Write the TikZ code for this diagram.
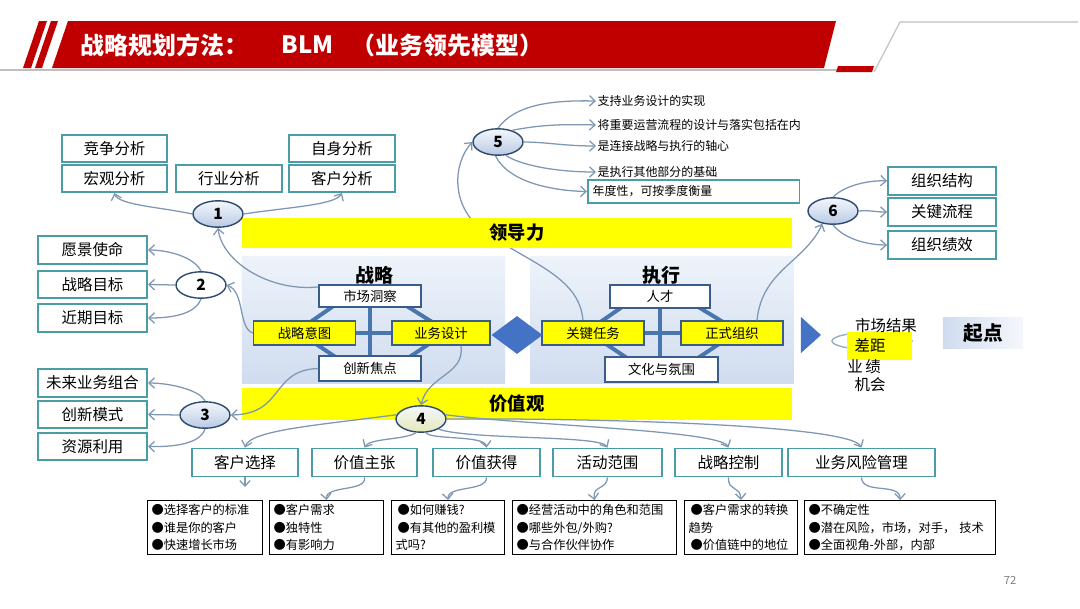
\documentclass[tikz,border=0pt]{standalone}
\usepackage{fontspec}
\setmainfont{Noto Sans CJK SC}
\usepackage{tikz}
\usetikzlibrary{arrows.meta,positioning,shapes.geometric,calc}
\definecolor{brandred}{HTML}{C00000}
\definecolor{rulegray}{HTML}{BFBFBF}
\definecolor{tealbd}{HTML}{4A9CA6}
\definecolor{linkc}{HTML}{7E97B3}
\definecolor{navybd}{HTML}{385D8A}
\definecolor{barblue}{HTML}{4A76B0}
\definecolor{diamondc}{HTML}{4472C4}
\definecolor{panelhi}{HTML}{EEF3FA}
\definecolor{panello}{HTML}{D0DCEF}
\definecolor{ovalhi}{HTML}{F4F7FC}
\definecolor{ovallo}{HTML}{B9CAE4}
\definecolor{ovalgreen}{HTML}{E4E9B8}
\definecolor{hiyellow}{HTML}{FFFF00}
\definecolor{pagegray}{HTML}{7F7F7F}
\tikzset{
  titletext/.style={text=white,font=\bfseries\fontsize{17}{19}\selectfont,inner sep=1pt},
  tagbox/.style={draw=tealbd,fill=white,line width=1.3pt,inner sep=0pt,
                 minimum width=2.63cm,minimum height=0.68cm,
                 font=\fontsize{11}{13}\selectfont},
  panel/.style={top color=panelhi,bottom color=panello,inner sep=0pt,
                minimum width=6.58cm,minimum height=3.15cm},
  band/.style={fill=hiyellow,inner sep=0pt,minimum width=13.75cm,
               minimum height=0.75cm,font=\bfseries\fontsize{13}{15}\selectfont},
  paneltitle/.style={font=\bfseries\fontsize{13.5}{15}\selectfont,inner sep=1pt},
  inbox/.style={draw=navybd,fill=white,line width=1pt,inner sep=0pt,
                minimum width=2.55cm,minimum height=0.6cm,
                font=\fontsize{9.5}{11}\selectfont},
  inboxy/.style={inbox,fill=hiyellow},
  bar/.style={draw=barblue,line width=2.8pt},
  oval/.style={ellipse,draw=navybd!80!black,line width=1pt,inner sep=0pt,
               minimum width=1.25cm,minimum height=0.66cm,
               top color=ovalhi,bottom color=ovallo,
               font=\bfseries\fontsize{11}{13}\selectfont},
  link/.style={-{Straight Barb[length=1.4mm,width=2.6mm]},draw=linkc,line width=0.9pt},
  note/.style={anchor=west,inner sep=1pt,font=\fontsize{8.5}{10}\selectfont},
  detail/.style={draw=black,line width=0.8pt,anchor=north west,align=left,
                 inner xsep=0.1cm,inner ysep=0.1cm,minimum height=1.33cm,
                 font=\fontsize{8.7}{12.2}\selectfont},
  plain/.style={inner sep=1pt,font=\fontsize{11}{13}\selectfont},
}
\begin{document}
\begin{tikzpicture}[x=0.025cm,y=-0.025cm]
  \fill[white] (0,0) rectangle (1080,608);
  \useasboundingbox (0,0) rectangle (1080,608);
  \draw[rulegray,line width=1pt] (0,70) -- (840,70);
  \fill[brandred] (39,21) -- (47,21) -- (31,68) -- (23,68) -- cycle;
  \fill[brandred] (51,21) -- (58,21) -- (42,68) -- (35,68) -- cycle;
  \fill[brandred] (68,21) -- (836,21) -- (824,68) -- (52,68) -- cycle;
  \fill[brandred] (838,66) -- (874,66) -- (872,72) -- (836,72) -- cycle;
  \draw[rulegray,line width=0.8pt] (874,72) -- (900,22) -- (1078,22);
  \node[titletext,anchor=west] (ttla) at (79,45) {战略规划方法：};
  \node[titletext,anchor=west] (ttlb) at (280,45) {BLM};
  \node[titletext,anchor=west] (ttlc) at (350,45) {（业务领先模型）};
  \node[panel] (zlp) at (373.5,320) {};
  \node[panel] (zxp) at (662,320) {};
  \node[oval] (e5) at (498,142) {5};
  \coordinate (gjrwtop) at (583,321);
  \draw[link] (gjrwtop) .. controls (580,275) and (525,262) .. (480,228)
    .. controls (452,205) and (452,165) .. (e5.west);
  \node[band] (ldl) at (517,233) {领导力};
  \node[band,minimum height=0.8cm] (jzg) at (517,404) {价值观};
  \node[paneltitle] (zlt) at (374,275) {战略};
  \node[paneltitle] (zxt) at (661,275) {执行};
  \draw[bar] (370,300) -- (370,360);
  \draw[bar] (340,333) -- (400,333);
  \draw[bar] (335,305) -- (306,325) (405,305) -- (437,325);
  \draw[bar] (310,340) -- (340,360) (435,340) -- (405,360);
  \draw[bar] (660,300) -- (660,360);
  \draw[bar] (630,333) -- (690,333);
  \draw[bar] (625,305) -- (596,325) (695,305) -- (728,325);
  \draw[bar] (600,340) -- (630,360) (725,340) -- (695,360);
  \node[inbox,minimum height=0.55cm] (scdc) at (370,296) {市场洞察};
  \node[inboxy] (zlyt) at (304.5,333) {战略意图};
  \node[inboxy,minimum width=2.45cm] (ywsj) at (441,333) {业务设计};
  \node[inbox,minimum height=0.62cm] (cxjd) at (370,368.5) {创新焦点};
  \node[inbox,minimum width=2.5cm,minimum height=0.57cm] (rc) at (660,296.5) {人才};
  \node[inboxy] (gjrw) at (593,333) {关键任务};
  \node[inboxy] (zszz) at (732,333) {正式组织};
  \node[inbox,minimum width=2.82cm,minimum height=0.62cm] (whfw) at (661.5,369.5) {文化与氛围};
  \node[diamond,fill=diamondc,inner sep=0pt,minimum width=1.28cm,
        minimum height=0.95cm] (lk) at (517,335) {};
  \node[isosceles triangle,isosceles triangle stretches,fill=diamondc,inner sep=0pt,
        minimum height=0.5cm,minimum width=0.9cm] (sj) at (809,335) {};
  \node[ellipse,draw=linkc!80,line width=1pt,minimum width=2.0cm,
        minimum height=0.43cm] (gapo) at (872,341) {};
  \node[fill=hiyellow,inner sep=0pt,minimum width=1.63cm,minimum height=0.7cm] (hl) at (879.5,346) {};
  \node[plain] (scjg) at (886,326) {市场结果};
  \node[plain] (cj) at (870,345) {差距};
  \node[plain] (yjt) at (864,367) {业\,绩};
  \node[plain] (jh) at (870,385) {机会};
  \node[left color=panello,right color=panelhi!60,inner sep=0pt,minimum width=2cm,
        minimum height=0.78cm,font=\bfseries\fontsize{14}{16}\selectfont] (qd) at (983,333) {起点};
  \foreach \nm/\x/\y/\lbl in {jzfx/114.5/148.5/竞争分析, zsfx/342/148.5/自身分析,
      hgfx/114.5/178.5/宏观分析, hyfx/229/178.5/行业分析, khfx/342/178.5/客户分析}
    \node[tagbox] (\nm) at (\x,\y) {\lbl};
  \foreach \nm/\y/\lbl in {yjsm/250/愿景使命, zlmb/284.5/战略目标, jqmb/318/近期目标,
      wlzh/383/未来业务组合, cxms/414.5/创新模式, zyly/446.5/资源利用}
    \node[tagbox,minimum width=2.73cm] (\nm) at (92.5,\y) {\lbl};
  \foreach \nm/\y/\lbl in {zzjg/181/组织结构, gjlc/212/关键流程, zzjx/245/组织绩效}
    \node[tagbox,minimum width=2.7cm] (\nm) at (942,\y) {\lbl};
  \foreach \nm/\x/\w/\lbl in {khxz/245/106/客户选择, jzzz/364.5/105/价值主张,
      jzhd/486.5/107/价值获得, hdfw/607.5/109/活动范围, zlkz/728.5/107/战略控制,
      ywfx/861.5/147/业务风险管理}
    \node[tagbox,minimum width=\w*0.025cm,minimum height=0.7cm] (\nm) at (\x,462.5) {\lbl};
  \foreach \nm/\x/\w/\txt in {
      dta/147/2.675cm/{●选择客户的标准\\●谁是你的客户\\●快速增长市场},
      dtb/269/2.65cm/{●客户需求\\●独特性\\●有影响力},
      dtc/391/2.625cm/{\,●如何赚钱?\\\,●有其他的盈利模\\式吗?},
      dtd/512/3.9cm/{●经营活动中的角色和范围\\●哪些外包/外购?\\●与合作伙伴协作},
      dte/684/2.625cm/{\,●客户需求的转换\\趋势\\\,●价值链中的地位},
      dtf/804/4.575cm/{●不确定性\\●潜在风险，市场，对手，\ 技术\\●全面视角-外部，内部}}
    \node[detail,text width=\w] (\nm) at (\x,500) {\txt};
  \node[oval] (e1) at (218,214) {1};
  \node[oval,top color=white,bottom color=white] (e2) at (201,285) {2};
  \node[oval] (e3) at (205,415) {3};
  \node[oval,bottom color=ovalgreen] (e4) at (421,419) {4};
  \node[oval] (e6) at (833,211) {6};
  \node[note] (nta) at (596,101) {支持业务设计的实现};
  \node[note] (ntb) at (596,125) {将重要运营流程的设计与落实包括在内};
  \node[note] (ntc) at (596,146) {是连接战略与执行的轴心};
  \node[note] (ntd) at (596,172) {是执行其他部分的基础};
  \node[note,draw=tealbd,line width=1.3pt,text width=5.05cm,inner xsep=0.12cm,
        minimum height=0.58cm] (nte) at (587,191.5) {年度性，可按季度衡量};
  \draw[link] (e1.west) .. controls (160,207) and (118,205) .. (hgfx.south);
  \draw[link] (e1.east) .. controls (290,207) and (335,205) .. (khfx.south);
  \draw[link] (scdc.170) .. controls (270,292) and (222,262) .. (e1.south);
  \draw[link] (e2.north) .. controls (195,258) and (170,250) .. (yjsm.east);
  \draw[link] (e2.west) -- (zlmb.east);
  \draw[link] (e2.south) .. controls (195,315) and (170,318) .. (jqmb.east);
  \draw[link] (zlyt.west) .. controls (238,328) and (245,292) .. (e2.east);
  \draw[link] (e3.north) .. controls (200,390) and (170,383) .. (wlzh.east);
  \draw[link] (e3.west) -- (cxms.east);
  \draw[link] (e3.south) .. controls (200,445) and (170,447) .. (zyly.east);
  \draw[link] (cxjd.west) .. controls (270,370) and (285,414) .. (e3.east);
  \draw[link] (e5.north) .. controls (515,105) and (550,100) .. (nta.west);
  \draw[link] (e5.40) .. controls (540,125) and (560,124) .. (ntb.west);
  \draw[link] (e5.east) .. controls (545,142) and (565,146) .. (ntc.west);
  \draw[link] (e5.-60) .. controls (520,165) and (555,172) .. (ntd.west);
  \draw[link] (e5.-100) .. controls (510,185) and (560,191) .. (nte.west);
  \draw[link] (e6.north) .. controls (845,185) and (870,180) .. (zzjg.west);
  \draw[link] (e6.east) .. controls (870,210) and (875,212) .. (gjlc.west);
  \draw[link] (e6.south) .. controls (845,240) and (870,245) .. (zzjx.west);
  \draw[link] ($(zszz.north)+(25,0)$) .. controls (762,270) and (805,262) .. (e6.230);
  \draw[link] ($(ywsj.south)+(20,0)$) .. controls (465,375) and (428,375) .. (e4.north);
  \draw[link] (e4.170) .. controls (320,425) and (250,430) .. (khxz.north);
  \draw[link] (e4.250) .. controls (405,440) and (370,438) .. (jzzz.north);
  \draw[link] (e4.290) .. controls (430,440) and (485,435) .. (jzhd.north);
  \draw[link] (e4.330) .. controls (470,440) and (600,435) .. (hdfw.north);
  \draw[link] (e4.10) .. controls (520,425) and (720,430) .. (zlkz.north);
  \draw[link] (e4.east) .. controls (600,418) and (850,425) .. (ywfx.north);
  \coordinate (khend) at (245,487);
  \draw[link] (khxz.south) -- (khend);
  \draw[link] (jzzz.south) .. controls (367,492) and (325,485) .. (dtb.north);
  \draw[link] (jzhd.south) .. controls (487,492) and (447,485) .. (dtc.north);
  \draw[link] (hdfw.south) .. controls (607,490) and (592,485) .. (dtd.north);
  \draw[link] (zlkz.south) .. controls (728,492) and (740,485) .. (dte.north);
  \draw[link] (ywfx.south) .. controls (862,495) and (900,482) .. (dtf.north);
  \node[text=pagegray,font=\fontsize{8}{9}\selectfont] (pg) at (1010,580) {72};
\end{tikzpicture}
\end{document}
